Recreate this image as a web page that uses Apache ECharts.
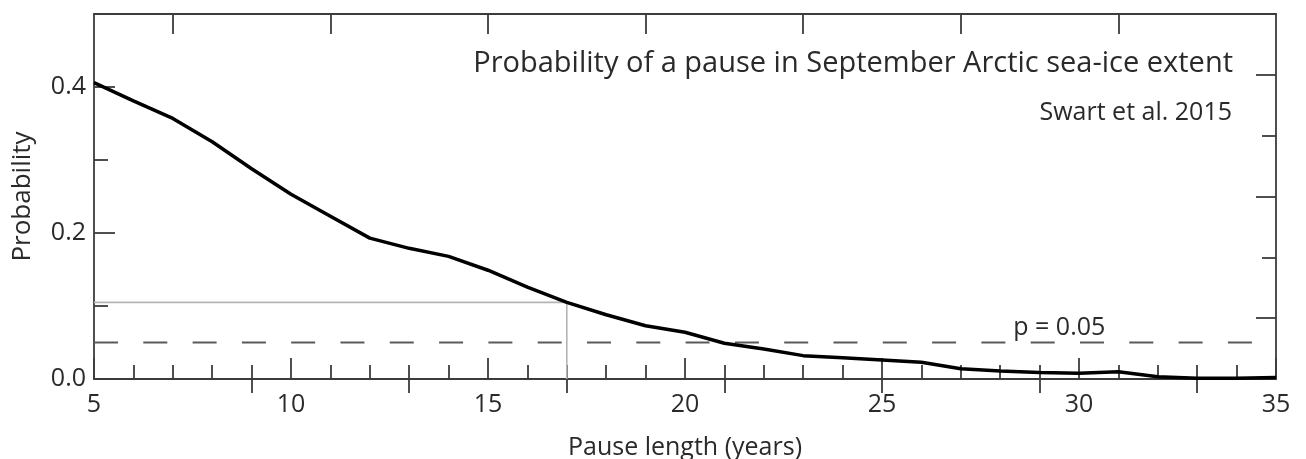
<!DOCTYPE html>
<html>
<head>
<meta charset="utf-8">
<script src="https://cdn.jsdelivr.net/npm/echarts@6/dist/echarts.min.js"></script>
<style>
  html, body { margin: 0; padding: 0; background: #fff; }
  #chart { width: 1306px; height: 459px; }
</style>
</head>
<body>
<div id="chart"></div>
<script>
// pause length (years) and probability of a pause of that length
const years = [5, 6, 7, 8, 9, 10, 11, 12, 13, 14, 15, 16, 17, 18, 19, 20,
  21, 22, 23, 24, 25, 26, 27, 28, 29, 30, 31, 32, 33, 34, 35]
const probability = [0.406, 0.381, 0.357, 0.325, 0.288, 0.253, 0.223, 0.193,
  0.179, 0.168, 0.149, 0.126, 0.105, 0.088, 0.073, 0.064,
  0.049, 0.041, 0.032, 0.029, 0.026, 0.023, 0.014, 0.011,
  0.009, 0.008, 0.010, 0.003, 0.001, 0.001, 0.002]

// grey guide: 17-year pause and its probability
const guideX = [5, 17, 17]
const guideY = [0.105, 0.105, 0]

// significance threshold
const threshold = 0.05
const thresholdLabel = 'p = 0.05'
const thresholdLabelAt = 29.5

// tick positions of the frame
const topLongTicks = [7, 11, 15, 19, 23, 27, 31]
const topShortTicks = [9, 13, 17, 21, 25, 29, 33]
const leftMajorTicks = [0, 0.2, 0.4]
const leftMinorTicks = [0.1, 0.3]
const rightLongTicks = [1, 3, 5]
const rightShortTicks = [2, 4]

const chartInstance = echarts.init(document.getElementById('chart'))

const font = '"Open Sans", "Noto Sans", sans-serif'
const frameColor = '#3c3c3c'
const textColor = '#2a2a2a'

// extra axes only used to draw frame ticks
function frameAxis (extra) {
  return Object.assign({
    type: 'value',
    axisLine: { show: false },
    axisLabel: { show: false },
    splitLine: { show: false },
    axisTick: { show: true, inside: true, length: 14, lineStyle: { color: frameColor, width: 1.8 } },
  }, extra)
}

const option = {
  animation: false,
  backgroundColor: '#fff',
  title: [
    {
      text: 'Probability of a pause in September Arctic sea-ice extent',
      right: 68,
      top: 44,
      textStyle: { fontFamily: font, fontSize: 29, fontWeight: 'normal', color: textColor },
    },
    {
      text: 'Swart et al. 2015',
      right: 69,
      top: 95,
      textStyle: { fontFamily: font, fontSize: 25, fontWeight: 'normal', color: textColor },
    },
  ],
  grid: {
    left: 94,
    right: 30,
    top: 14,
    bottom: 80,
    containLabel: false,
    outerBoundsMode: 'none',
  },
  xAxis: [
    {
      type: 'value',
      position: 'bottom',
      min: 5,
      max: 35,
      interval: 5,
      name: 'Pause length (years)',
      nameLocation: 'middle',
      nameGap: 56,
      nameTextStyle: { fontFamily: font, fontSize: 25, color: textColor },
      axisLine: { show: true, onZero: false, lineStyle: { color: frameColor, width: 1.8 } },
      axisTick: { show: true, inside: true, length: 21, lineStyle: { color: frameColor, width: 1.8 } },
      minorTick: { show: true, splitNumber: 5, length: 14, lineStyle: { color: frameColor, width: 1.8 } },
      axisLabel: { fontFamily: font, fontSize: 25, color: textColor, margin: 13 },
      splitLine: { show: false },
    },
    frameAxis({
      position: 'top',
      min: 5,
      max: 35,
      axisLine: { show: true, onZero: false, lineStyle: { color: frameColor, width: 1.8 } },
      axisTick: { show: true, inside: true, length: 20, customValues: topLongTicks, lineStyle: { color: frameColor, width: 1.8 } },
    }),
    frameAxis({
      position: 'top',
      min: 5,
      max: 35,
      axisTick: { show: true, inside: true, length: 14, customValues: topShortTicks, lineStyle: { color: frameColor, width: 1.8 } },
    }),
  ],
  yAxis: [
    {
      type: 'value',
      position: 'left',
      min: 0,
      max: 0.5,
      interval: 0.1,
      name: 'Probability',
      nameLocation: 'middle',
      nameGap: 58,
      nameTextStyle: { fontFamily: font, fontSize: 26, color: textColor },
      axisLine: { show: true, onZero: false, lineStyle: { color: frameColor, width: 1.8 } },
      axisTick: { show: true, inside: true, length: 21, customValues: leftMajorTicks, lineStyle: { color: frameColor, width: 1.8 } },
      axisLabel: {
        fontFamily: font, fontSize: 25, color: textColor, margin: 8,
        customValues: leftMajorTicks,
        formatter: v => v.toFixed(1),
      },
      splitLine: { show: false },
    },
    frameAxis({
      position: 'left',
      min: 0,
      max: 0.5,
      axisTick: { show: true, inside: true, length: 14, customValues: leftMinorTicks, lineStyle: { color: frameColor, width: 1.8 } },
    }),
    frameAxis({
      position: 'right',
      min: 0,
      max: 6,
      axisLine: { show: true, onZero: false, lineStyle: { color: frameColor, width: 1.8 } },
      axisTick: { show: true, inside: true, length: 20, customValues: rightLongTicks, lineStyle: { color: frameColor, width: 1.8 } },
    }),
    frameAxis({
      position: 'right',
      min: 0,
      max: 6,
      axisTick: { show: true, inside: true, length: 14, customValues: rightShortTicks, lineStyle: { color: frameColor, width: 1.8 } },
    }),
  ],
  series: [
    {
      name: 'guide',
      type: 'line',
      data: guideX.map((x, i) => [x, guideY[i]]),
      showSymbol: false,
      silent: true,
      lineStyle: { color: '#b4b4b4', width: 1.6 },
      z: 2,
    },
    {
      name: 'threshold',
      type: 'line',
      data: [[years[0], threshold], [years[years.length - 1], threshold]],
      showSymbol: false,
      silent: true,
      lineStyle: { color: '#5a5a5a', width: 2, type: [24, 25.3] },
      markPoint: {
        symbol: 'circle',
        symbolSize: 0,
        data: [{ coord: [thresholdLabelAt, threshold] }],
        label: {
          show: true,
          position: 'top',
          distance: 2,
          formatter: thresholdLabel,
          fontFamily: font,
          fontSize: 25,
          color: textColor,
        },
      },
      z: 2,
    },
    {
      name: 'probability',
      type: 'line',
      data: years.map((y, i) => [y, probability[i]]),
      showSymbol: false,
      lineStyle: { color: '#000', width: 3.5 },
      z: 3,
    },
  ],
}

chartInstance.setOption(option)
</script>
</body>
</html>
